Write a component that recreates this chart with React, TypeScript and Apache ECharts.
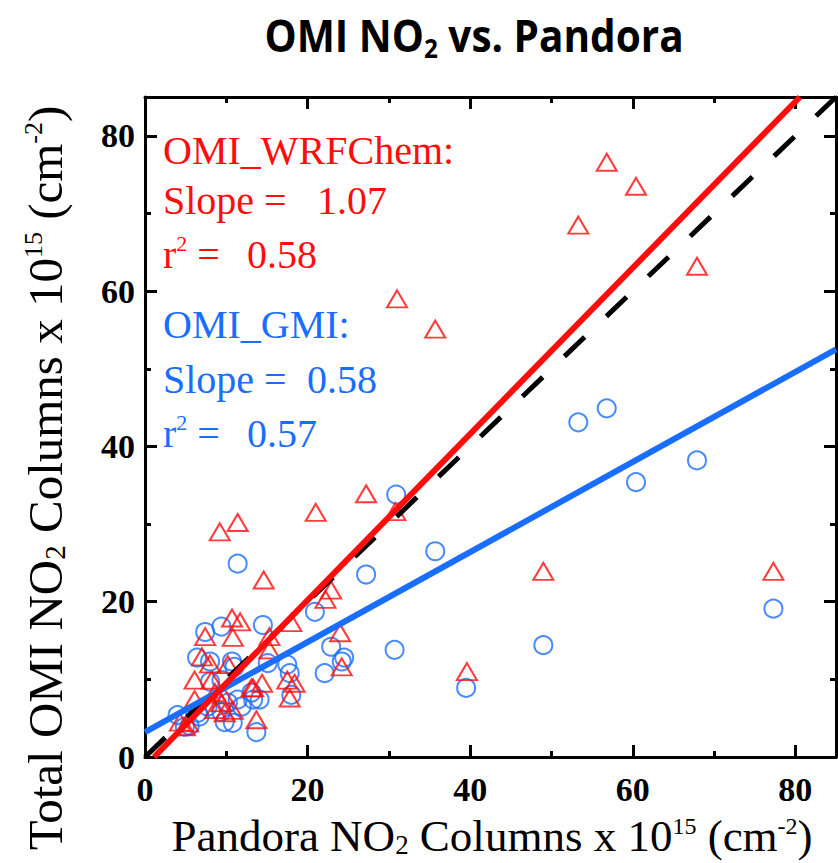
import React, { useEffect, useRef } from "react";
import * as echarts from "echarts";

// ---- Data ----
const wrfX = [77.3, 67.9, 60.4, 56.8, 53.3, 49.0, 39.6, 35.7, 31.0, 30.8, 27.2, 21.0, 24.0, 22.9, 22.2, 24.2, 18.0, 17.5, 17.8, 18.4, 14.6, 11.4, 9.2, 15.3, 15.3, 14.4, 13.3, 13.7, 10.7, 11.7, 10.8, 7.4, 7.0, 6.1, 8.2, 10.2, 8.6, 6.1, 9.6, 8.6, 9.8, 4.3, 5.3, 13.1, 10.8, 9.4, 4.9, 8.0];
const wrfY = [23.9, 63.2, 73.5, 76.6, 68.5, 23.9, 11.0, 55.1, 59.0, 31.6, 33.9, 31.5, 16.0, 21.5, 20.3, 11.6, 17.3, 9.9, 7.6, 9.5, 22.8, 30.2, 29.0, 15.5, 13.8, 9.5, 8.9, 4.8, 17.9, 17.4, 15.4, 15.5, 12.9, 9.9, 9.9, 11.9, 8.3, 7.4, 8.0, 6.1, 5.7, 4.5, 4.4, 8.9, 6.0, 7.0, 3.9, 12.0];
const gmiX = [77.3, 67.9, 60.4, 56.8, 53.3, 49.0, 39.5, 35.7, 30.9, 30.7, 27.2, 20.9, 22.9, 22.1, 24.2, 24.5, 18.0, 17.5, 17.8, 15.1, 14.5, 11.4, 9.4, 7.4, 6.4, 8.0, 10.7, 11.0, 8.0, 9.4, 11.4, 10.2, 7.7, 6.5, 4.0, 4.9, 9.8, 10.8, 9.4, 11.9, 13.1, 14.1, 13.3, 13.7, 6.7, 5.5];
const gmiY = [19.1, 38.2, 35.4, 44.9, 43.1, 14.4, 8.9, 26.5, 33.8, 13.8, 23.5, 18.7, 14.2, 10.8, 12.3, 12.8, 8.0, 11.9, 10.8, 12.1, 17.0, 24.9, 16.8, 16.1, 12.8, 12.3, 12.3, 11.6, 9.7, 9.9, 7.4, 7.0, 6.5, 5.7, 5.4, 3.9, 4.5, 4.4, 5.8, 6.5, 8.3, 7.4, 7.4, 3.2, 5.2, 4.0];

// fit lines: [slope, intercept], r^2
const wrfFit = [1.07, -1.2];
const gmiFit = [0.58, 3.2];
const wrfR2 = 0.58;
const gmiR2 = 0.57;

const axisRange = [0, 85];
const majorStep = 20;
const minorStep = 10;

const RED = "#ff0d0d";
const BLUE = "#1a6eff";
const SERIF = "'Liberation Serif', 'Times New Roman', serif";

function fitLine(fit: number[]) {
  const [m, b] = fit;
  const [lo, hi] = axisRange;
  let x0 = lo;
  let x1 = hi;
  if (m * x0 + b < lo) x0 = (lo - b) / m;
  if (m * x1 + b > hi) x1 = (hi - b) / m;
  return [
    [x0, m * x0 + b],
    [x1, m * x1 + b],
  ];
}

function makeAxis(kind: "x" | "y", position: string, step: number, major: boolean, labels: boolean) {
  return {
    type: "value",
    position,
    min: axisRange[0],
    max: axisRange[1],
    interval: step,
    splitLine: { show: false },
    axisLine: { show: major, onZero: false, lineStyle: { color: "#000", width: 3 } },
    axisTick: {
      show: true,
      inside: true,
      length: major ? 12 : 6,
      lineStyle: { color: "#000", width: 3 },
    },
    axisLabel: {
      show: labels,
      showMaxLabel: false,
      margin: kind === "x" ? 17 : 10,
      fontFamily: SERIF,
      fontWeight: "bold",
      fontSize: 34,
      lineHeight: 30,
      color: "#000",
    },
  };
}

function axisTitleRich(size: number) {
  return {
    a: { fontFamily: SERIF, fontSize: size, lineHeight: size, fill: "#000" },
    s: { fontFamily: SERIF, fontSize: Math.round(size * 0.6), lineHeight: Math.round(size * 0.6), verticalAlign: "bottom", fill: "#000" },
    p: { fontFamily: SERIF, fontSize: Math.round(size * 0.54), lineHeight: Math.round(size * 0.54), verticalAlign: "top", fill: "#000" },
  };
}

export default function App() {
  const ref = useRef<HTMLDivElement>(null);
  useEffect(() => {
    if (!ref.current) return;
    const chart = echarts.init(ref.current, null, { renderer: "svg" });
    const pts = (xs: number[], ys: number[]) => xs.map((x, i) => [x, ys[i]]);
    const valStyle = (color: string) => ({ fill: color, font: `40px ${SERIF}` });
    const r2Text = (color: string) => ({
      text: "{a|r}{b|2}{a| =}",
      fill: color,
      rich: {
        a: { fontFamily: SERIF, fontSize: 40, lineHeight: 44, fill: color },
        b: { fontFamily: SERIF, fontSize: 22, lineHeight: 22, verticalAlign: "top", fill: color },
      },
      verticalAlign: "middle",
    });
    chart.setOption({
      animation: false,
      backgroundColor: "#fff",
      grid: { left: 145, right: 2, top: 97, bottom: 106, containLabel: false },
      xAxis: [
        makeAxis("x", "bottom", majorStep, true, true),
        makeAxis("x", "bottom", minorStep, false, false),
        makeAxis("x", "top", majorStep, true, false),
        makeAxis("x", "top", minorStep, false, false),
      ],
      yAxis: [
        makeAxis("y", "left", majorStep, true, true),
        makeAxis("y", "left", minorStep, false, false),
        makeAxis("y", "right", majorStep, true, false),
        makeAxis("y", "right", minorStep, false, false),
      ],
      series: [
        {
          type: "scatter",
          data: pts(gmiX, gmiY),
          symbol: "circle",
          symbolSize: 18,
          itemStyle: { color: "rgba(0,0,0,0)", borderColor: BLUE, borderWidth: 2 },
        },
        {
          type: "scatter",
          data: pts(wrfX, wrfY),
          symbol: "triangle",
          symbolSize: [20, 17],
          itemStyle: { color: "rgba(0,0,0,0)", borderColor: RED, borderWidth: 2 },
        },
        {
          type: "line",
          data: [
            [axisRange[0], axisRange[0]],
            [axisRange[1], axisRange[1]],
          ],
          symbol: "none",
          lineStyle: { color: "#000", width: 5, type: [28, 30] },
        },
        {
          type: "line",
          data: fitLine(gmiFit),
          symbol: "none",
          lineStyle: { color: BLUE, width: 6 },
        },
        {
          type: "line",
          data: fitLine(wrfFit),
          symbol: "none",
          lineStyle: { color: RED, width: 6 },
        },
      ],
      graphic: [
        {
          type: "text",
          x: 474,
          y: 35,
          scaleX: 0.9,
          style: {
            text: "{a|OMI NO}{s|2}{a| vs. Pandora}",
            align: "center",
            verticalAlign: "middle",
            rich: {
              a: { fontFamily: "'Open Sans', sans-serif", fontWeight: "bold", fontSize: 45, lineHeight: 52, fill: "#000" },
              s: { fontFamily: "'Open Sans', sans-serif", fontWeight: "bold", fontSize: 27, lineHeight: 27, verticalAlign: "bottom", fill: "#000" },
            },
          },
        },
        {
          type: "text",
          x: 492,
          y: 836,
          style: {
            text: "{a|Pandora NO}{s|2}{a| Columns x 10}{p|15}{a| (cm}{p|-2}{a|)}",
            align: "center",
            verticalAlign: "middle",
            rich: axisTitleRich(45),
          },
        },
        {
          type: "text",
          x: 45,
          y: 478,
          rotation: Math.PI / 2,
          style: {
            text: "{a|Total OMI NO}{s|2}{a| Columns x 10}{p|15}{a| (cm}{p|-2}{a|)}",
            align: "center",
            verticalAlign: "middle",
            rich: axisTitleRich(49),
          },
        },
        // WRFChem annotation
        { type: "text", x: 163, y: 150, style: { text: "OMI_WRFChem:", verticalAlign: "middle", ...valStyle(RED) } },
        { type: "text", x: 163, y: 200, style: { text: "Slope =", verticalAlign: "middle", ...valStyle(RED) } },
        { type: "text", x: 317, y: 200, style: { text: wrfFit[0].toFixed(2), verticalAlign: "middle", ...valStyle(RED) } },
        { type: "text", x: 163, y: 254, style: r2Text(RED) },
        { type: "text", x: 247, y: 254, style: { text: wrfR2.toFixed(2), verticalAlign: "middle", ...valStyle(RED) } },
        // GMI annotation
        { type: "text", x: 163, y: 324, style: { text: "OMI_GMI:", verticalAlign: "middle", ...valStyle(BLUE) } },
        { type: "text", x: 163, y: 379, style: { text: "Slope =", verticalAlign: "middle", ...valStyle(BLUE) } },
        { type: "text", x: 307, y: 379, style: { text: gmiFit[0].toFixed(2), verticalAlign: "middle", ...valStyle(BLUE) } },
        { type: "text", x: 163, y: 433, style: r2Text(BLUE) },
        { type: "text", x: 247, y: 433, style: { text: gmiR2.toFixed(2), verticalAlign: "middle", ...valStyle(BLUE) } },
      ],
    });
    return () => chart.dispose();
  }, []);
  return (
    <div
      ref={ref}
      style={{ position: "fixed", left: 0, top: 0, width: 838, height: 863, background: "#fff" }}
    />
  );
}
